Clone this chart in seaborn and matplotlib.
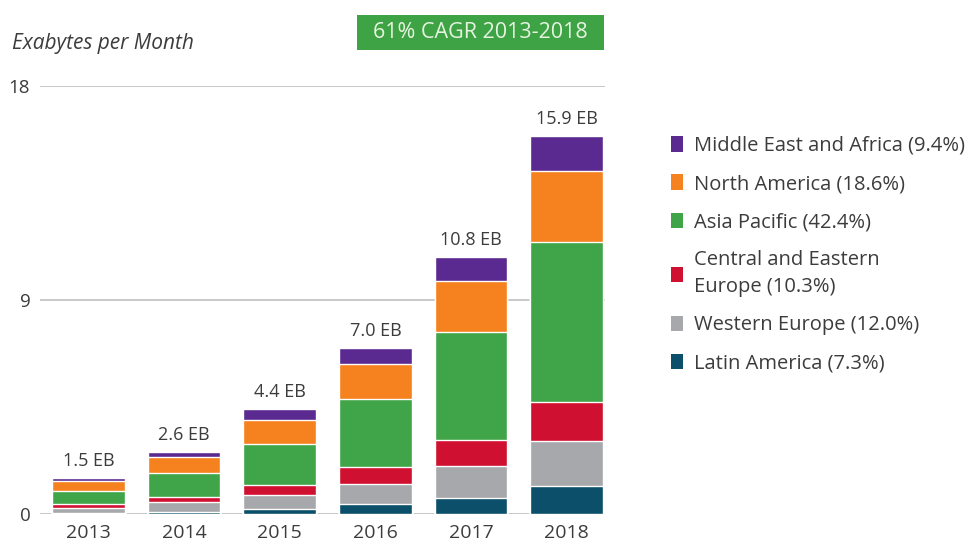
import matplotlib
matplotlib.use("Agg")
import matplotlib.pyplot as plt
from matplotlib.patches import Patch, Rectangle
import numpy as np
import pandas as pd
import seaborn as sns

# Monthly traffic by region (exabytes per month), stacked bottom to top
years = ["2013", "2014", "2015", "2016", "2017", "2018"]
latin_america = [0.06, 0.10, 0.20, 0.41, 0.66, 1.16]
western_europe = [0.20, 0.40, 0.62, 0.85, 1.37, 1.91]
central_eastern_europe = [0.15, 0.22, 0.42, 0.73, 1.08, 1.64]
asia_pacific = [0.57, 1.00, 1.70, 2.85, 4.53, 6.74]
north_america = [0.40, 0.66, 1.02, 1.47, 2.16, 2.96]
middle_east_africa = [0.12, 0.22, 0.44, 0.69, 1.00, 1.49]

region_labels = [
    "Latin America (7.3%)",
    "Western Europe (12.0%)",
    "Central and Eastern\nEurope (10.3%)",
    "Asia Pacific (42.4%)",
    "North America (18.6%)",
    "Middle East and Africa (9.4%)",
]
region_colors = ["#0b4f6b", "#a7a8ab", "#cf1030", "#40a448", "#f5821f", "#5b2a90"]

y_ticks = [0, 9, 18]
cagr_text = "61% CAGR 2013-2018"
y_title = "Exabytes per Month"

series = [latin_america, western_europe, central_eastern_europe,
          asia_pacific, north_america, middle_east_africa]

df = pd.DataFrame({"year": years})
cum = np.zeros(len(years))
for lab, vals in zip(region_labels, series):
    cum = cum + np.array(vals)
    df[lab] = cum.copy()
totals = df[region_labels[-1]].values

sns.set_theme(style="white")
plt.rcParams["font.family"] = ["Open Sans", "DejaVu Sans"]
text_color = "#3c3c3c"

fig = plt.figure(figsize=(9.71, 5.45), dpi=100)
ax = fig.add_axes([40 / 971, 31 / 545, 565 / 971, 428 / 545])

# Draw cumulative layers from the top down so each lower layer covers the one above
for lab, col in reversed(list(zip(region_labels, region_colors))):
    sns.barplot(data=df, x="year", y=lab, color=col, saturation=1,
                width=0.76, ax=ax, zorder=3)

for i, tot in enumerate(totals):
    ax.annotate(f"{tot:.1f} EB", (i, tot), xytext=(0, 17),
                textcoords="offset pixels", ha="center", va="center",
                fontsize=13, color=text_color, annotation_clip=False)

ax.set_xlim(-0.507, 5.40)
ax.set_ylim(0, 18)
ax.set_yticks(y_ticks)
ax.set_yticklabels([str(t) for t in y_ticks])
ax.set_xlabel("")
ax.set_ylabel("")
ax.yaxis.grid(True, color="#c8c8c8", linewidth=1.4)
ax.xaxis.grid(False)
ax.set_axisbelow(True)
for s in ax.spines.values():
    s.set_visible(False)
ax.tick_params(axis="y", length=0, pad=7, labelsize=13.5, labelcolor=text_color)
ax.tick_params(axis="x", length=0, pad=7, labelsize=14, labelcolor=text_color)

fig.text(12 / 971, 1 - 43 / 545, y_title, style="italic", va="center",
         ha="left", fontsize=15, color=text_color)

fig.patches.append(Rectangle((357 / 971, 1 - 50 / 545), 247 / 971, 35 / 545,
                             transform=fig.transFigure, facecolor="#3ea345",
                             edgecolor="none"))
fig.text(480.5 / 971, 1 - 33 / 545, cagr_text, ha="center", va="center",
         fontsize=15.5, color="#e6f4df")

handles = [Patch(facecolor=c, edgecolor="none") for c in region_colors]
leg = fig.legend(handles[::-1], region_labels[::-1], loc="upper left",
                 bbox_to_anchor=(671 / 971, 1 - 136 / 545), frameon=False,
                 fontsize=14.5, handlelength=0.58, handleheight=0.8,
                 handletextpad=0.55, labelspacing=0.9, borderpad=0,
                 borderaxespad=0)
for t in leg.get_texts():
    t.set_color(text_color)
    t.set_linespacing(1.45)

fig.savefig("out.png", dpi=100, facecolor="white")
